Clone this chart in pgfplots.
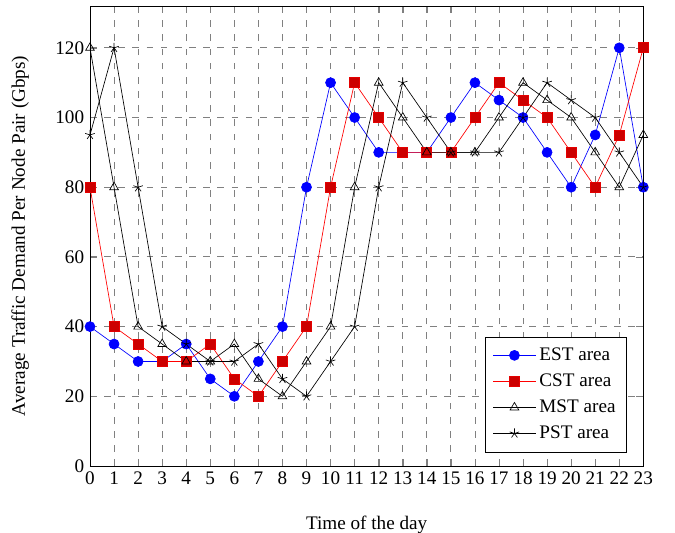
\documentclass[border=0pt]{standalone}
\usepackage{fontspec}
\setmainfont{Liberation Serif}
\usepackage{pgfplots}
\pgfplotsset{compat=1.18}
\begin{document}
\begin{tikzpicture}
\path[use as bounding box] (-54pt,-40pt) rectangle (351pt,279.6pt);
\begin{axis}[
  at={(0,0)}, anchor=south west,
  scale only axis, width=332pt, height=276pt,
  font=\fontsize{11.5}{14}\selectfont,
  xmin=0, xmax=23, ymin=0, ymax=132,
  xtick={0,1,...,23},
  ytick={0,20,...,120},
  grid=major,
  major grid style={gray, line width=0.5pt, dash pattern=on 4pt off 4.5pt},
  /pgf/number format/assume math mode=true,
  xlabel={Time of the day},
  ylabel={Average Traffic Demand Per Node Pair (Gbps)},
  xlabel style={yshift=-12pt},
  ylabel style={yshift=9pt},
  legend style={at={(0.97,0.03)}, anchor=south east, draw=black, row sep=2.5pt,
    inner sep=4.5pt},
  legend cell align=left,
  legend image code/.code={
    \draw[mark repeat=2, mark phase=2] plot coordinates {(0cm,0cm) (0.45cm,0cm) (0.9cm,0cm)};
  },
  mark size=3pt,
]
\addplot[blue, mark=*, mark options={fill=blue}] coordinates {
 (0,40) (1,35) (2,30) (3,30) (4,35) (5,25) (6,20) (7,30) (8,40) (9,80) (10,110) (11,100)
 (12,90) (13,90) (14,90) (15,100) (16,110) (17,105) (18,100) (19,90) (20,80) (21,95) (22,120) (23,80)};
\addlegendentry{EST area}
\addplot[red, mark=square*, mark options={fill=red!80!black, draw=red!90!black}] coordinates {
 (0,80) (1,40) (2,35) (3,30) (4,30) (5,35) (6,25) (7,20) (8,30) (9,40) (10,80) (11,110)
 (12,100) (13,90) (14,90) (15,90) (16,100) (17,110) (18,105) (19,100) (20,90) (21,80) (22,95) (23,120)};
\addlegendentry{CST area}
\addplot[black, mark=triangle, mark options={solid}] coordinates {
 (0,120) (1,80) (2,40) (3,35) (4,30) (5,30) (6,35) (7,25) (8,20) (9,30) (10,40) (11,80)
 (12,110) (13,100) (14,90) (15,90) (16,90) (17,100) (18,110) (19,105) (20,100) (21,90) (22,80) (23,95)};
\addlegendentry{MST area}
\addplot[black, mark=star] coordinates {
 (0,95) (1,120) (2,80) (3,40) (4,35) (5,30) (6,30) (7,35) (8,25) (9,20) (10,30) (11,40)
 (12,80) (13,110) (14,100) (15,90) (16,90) (17,90) (18,100) (19,110) (20,105) (21,100) (22,90) (23,80)};
\addlegendentry{PST area}
\end{axis}
\end{tikzpicture}
\end{document}
